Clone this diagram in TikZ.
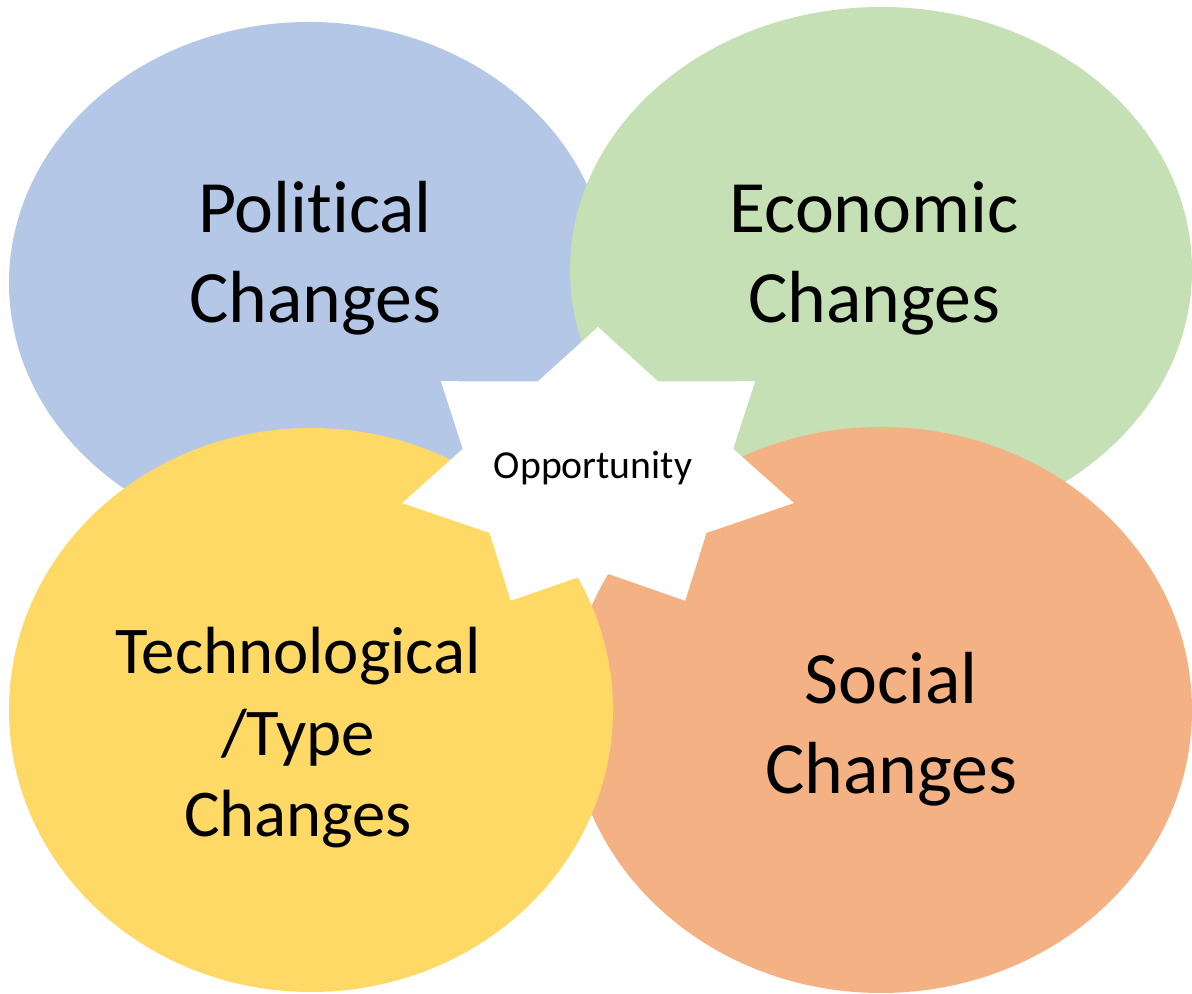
\documentclass[tikz,border=0pt]{standalone}
\usepackage{fontspec}
\setmainfont{Carlito}[Ligatures=NoCommon]
\usepackage{tikz}
\usetikzlibrary{shapes.geometric,positioning,calc}
\definecolor{polblue}{HTML}{B4C7E7}
\definecolor{ecogreen}{HTML}{C5E0B4}
\definecolor{socorange}{HTML}{F4B183}
\definecolor{tecyellow}{HTML}{FFD966}
\tikzset{blob/.style={ellipse,draw=none,inner sep=0pt},
  bigtxt/.style={align=center,inner sep=0pt,font=\fontsize{21}{25.6}\selectfont},
  midtxt/.style={align=center,inner sep=0pt,font=\fontsize{19}{23.2}\selectfont}}

\begin{document}
\begin{tikzpicture}
 \useasboundingbox (0,0) rectangle (11.92,9.94);
 \node[blob,fill=polblue,minimum width=6cm,minimum height=5.22cm] (pol) at (3.09,7.11) {};
 \node[blob,fill=ecogreen,minimum width=6.22cm,minimum height=5.26cm] (eco) at (8.81,7.24) {};
 \node[blob,fill=socorange,minimum width=6.22cm,minimum height=5.66cm] (soc) at (8.81,2.84) {};
 \node[blob,fill=tecyellow,minimum width=6.04cm,minimum height=5.64cm] (tec) at (3.11,2.84) {};
 % seven point star in the middle
 \coordinate (opc) at (5.98,5.23);
 \fill[white] ($(opc)+(90:2.01 and 1.44)$)
  foreach \k [evaluate=\k as \r using {ifthenelse(mod(\k,2)==0,1,0.69)}] in {1,...,13}
  { -- ($(opc)+({90+\k*180/7}:{\r*2.01} and {\r*1.44})$) } -- cycle;
 \node[inner sep=0pt,font=\fontsize{11.3}{13.6}\selectfont] (opp) at ([shift={(-0.05,0.03)}]opc) {Opportunity};
 \node[bigtxt] (poltxt) at ([shift={(0.06,0.25)}]pol.center) {Political\\Changes};
 \node[bigtxt] (ecotxt) at ([shift={(-0.07,0.12)}]eco.center) {Economic\\Changes};
 \node[midtxt] (tectxt) at ([shift={(-0.13,-0.28)}]tec.center) {Technological\\/Type\\Changes};
 \node[bigtxt] (soctxt) at ([shift={(0.10,-0.19)}]soc.center) {Social\\Changes};
\end{tikzpicture}
\end{document}
